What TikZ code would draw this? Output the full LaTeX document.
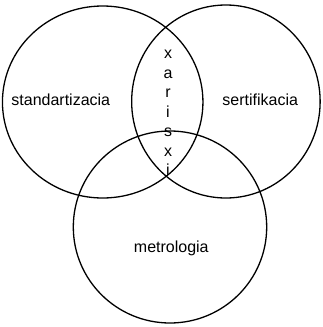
\documentclass[tikz,border=0pt]{standalone}
\usepackage{fontspec}
\setmainfont{Liberation Sans}
\usetikzlibrary{shapes.geometric}
\tikzset{
  krug/.style={draw=black,line width=1.3pt,ellipse,inner sep=0pt},
  lbl/.style={font=\fontsize{16}{19.5}\selectfont,inner sep=0pt,anchor=base}
}

\begin{document}
\begin{tikzpicture}[x=1pt,y=-1pt]
\useasboundingbox (0,0) rectangle (322,327);
% three sets
\node[krug,minimum width=200.5pt,minimum height=192pt] (stand) at (102.7,102) {};
\node[krug,minimum width=188.5pt,minimum height=193pt] (sert) at (225.9,101.5) {};
\node[krug,minimum width=193.4pt,minimum height=192pt] (metro) at (170,227) {};
% labels
\node[lbl] (tStand) at (60.8,105) {standartizacia};
\node[lbl] (tSert) at (260.2,105) {sertifikacia};
\node[lbl] (tMetro) at (171.3,252.5) {metrologia};
\foreach \ch [count=\i] in {x,a,r,i,s,x,i}
  \node[lbl] (q\i) at (168,{58.5+19.5*(\i-1)}) {\ch};
\end{tikzpicture}
\end{document}
